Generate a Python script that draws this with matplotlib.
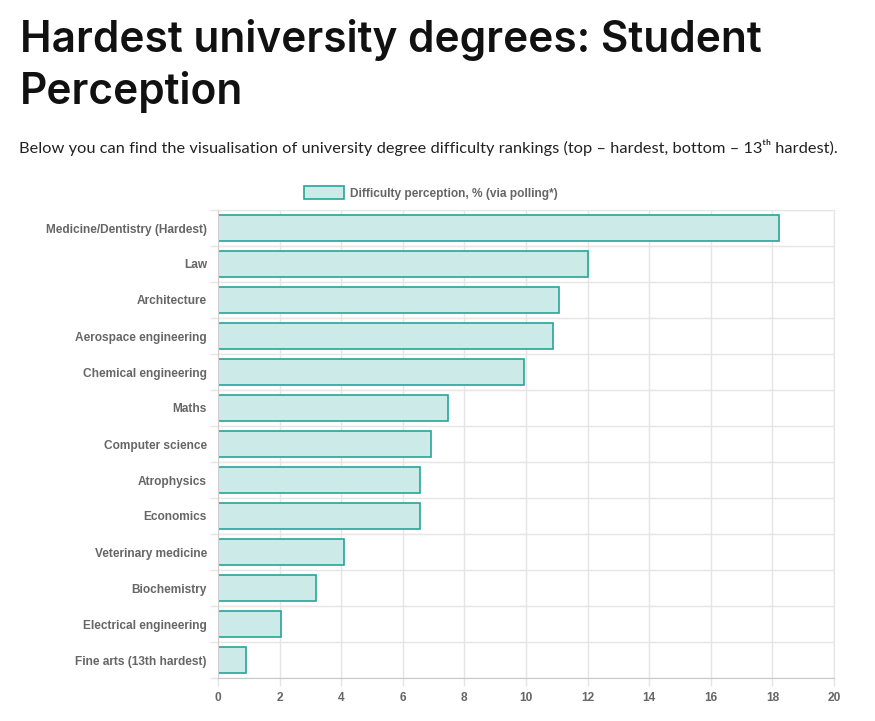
import numpy as np
import matplotlib
matplotlib.use("Agg")
import matplotlib.pyplot as plt
from matplotlib.ticker import FixedLocator

degrees = ["Medicine/Dentistry (Hardest)", "Law", "Architecture", "Aerospace engineering",
           "Chemical engineering", "Maths", "Computer science", "Atrophysics", "Economics",
           "Veterinary medicine", "Biochemistry", "Electrical engineering", "Fine arts (13th hardest)"]
difficulty = [18.2, 12.0, 11.06, 10.87, 9.93, 7.47, 6.92, 6.55, 6.55, 4.1, 3.17, 2.06, 0.92]
x_ticks = [0, 2, 4, 6, 8, 10, 12, 14, 16, 18, 20]
legend_label = "Difficulty perception, % (via polling*)"

W, H = 875, 721
fig = plt.figure(figsize=(W / 100, H / 100), dpi=100)

fill = "#cceae7"
edge = "#26a69a"
grid_c = "#e5e5e5"
lab_c = "#666666"

fig.text(20 / W, 1 - 19 / H, "Hardest university degrees: Student\nPerception",
         fontsize=30.5, fontweight="semibold", family="Inter", color="#111111",
         va="top", ha="left", linespacing=1.3)
fig.text(19 / W, 1 - 147 / H,
         "Below you can find the visualisation of university degree difficulty rankings "
         "(top \u2013 hardest, bottom \u2013 13\u1d57\u02b0 hardest).",
         fontsize=11.75, family="Lato", color="#222222", va="center", ha="left")

ax = fig.add_axes([218 / W, (H - 678) / H, 616 / W, 468 / H])
y = np.arange(len(degrees))
ax.barh(y, difficulty, height=0.72, color=fill, edgecolor=edge, linewidth=1.2, zorder=2)

ax.set_xlim(0, 20)
ax.set_ylim(len(degrees) - 0.5, -0.5)
ax.set_xticks(x_ticks)
ax.set_yticks(y)
ax.set_yticklabels(degrees)
ax.yaxis.set_minor_locator(FixedLocator(np.arange(-0.5, len(degrees), 1.0)))

ax.grid(axis="x", which="major", color=grid_c, linewidth=1, zorder=0)
ax.grid(axis="y", which="minor", color=grid_c, linewidth=1, zorder=0)
ax.set_axisbelow(True)

for t in ax.get_xticklabels() + ax.get_yticklabels():
    t.set_fontfamily("Liberation Sans")
    t.set_fontweight("bold")
    t.set_color(lab_c)
    t.set_fontsize(8.6)

ax.tick_params(axis="y", which="major", length=0, pad=8)
ax.tick_params(axis="y", which="minor", length=6, color=grid_c, width=1)
ax.tick_params(axis="x", which="major", length=6, color=grid_c, width=1, pad=4)

for s in ["top", "right"]:
    ax.spines[s].set_color(grid_c)
ax.spines["left"].set_color("#d0d0d0")
ax.spines["bottom"].set_color("#c8c8c8")

leg = fig.legend([plt.Rectangle((0, 0), 1, 1, facecolor=fill, edgecolor=edge, linewidth=1.2)],
                 [legend_label], loc="center", bbox_to_anchor=(431 / W, 1 - 193 / H), frameon=False,
                 handlelength=3.3, handleheight=1.2, handletextpad=0.5, borderpad=0.0,
                 prop={"family": "Liberation Sans", "weight": "bold", "size": 8.6})
for t in leg.get_texts():
    t.set_color(lab_c)

fig.savefig("out.png", dpi=100, facecolor="white")
